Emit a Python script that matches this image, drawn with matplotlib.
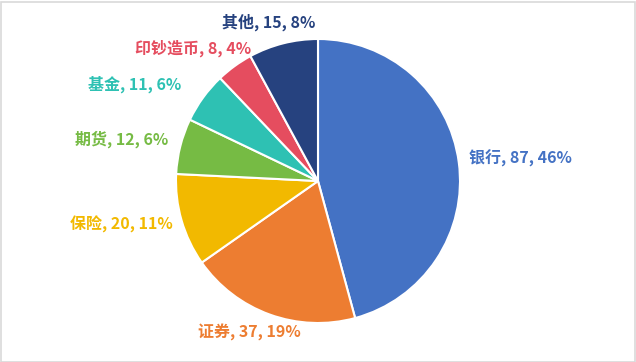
import matplotlib
matplotlib.use("Agg")
import matplotlib.pyplot as plt
from matplotlib.patches import Rectangle

plt.rcParams['font.family'] = ['Noto Sans CJK SC', 'DejaVu Sans']

categories = ["银行", "证券", "保险", "期货", "基金", "印钞造币", "其他"]
values = [87, 37, 20, 12, 11, 8, 15]
percents = ["46%", "19%", "11%", "6%", "6%", "4%", "8%"]

colors = ["#4472C4", "#ED7D31", "#F2B900", "#76BB44", "#2EC1B3", "#E54D5F", "#26427F"]

# label centres (layout, in pie-radius units relative to the pie centre)
label_pos = [(1.423, 0.162), (-0.486, -1.067), (-1.387, -0.303), (-1.380, 0.296),
             (-1.289, 0.683), (-0.880, 0.937), (-0.345, 1.120)]

W, H = 636, 362
fig = plt.figure(figsize=(W / 100, H / 100), dpi=100)
ax = fig.add_axes([0, 0, 1, 1])
cx, cy, r = 318, 181, 142
ax.set_xlim(-cx / r, (W - cx) / r)
ax.set_ylim(-(H - cy) / r, cy / r)
ax.set_aspect('auto')
ax.axis('off')

wedges, _ = ax.pie(values, colors=colors, startangle=90, counterclock=False,
                   radius=1.0, center=(0, 0), frame=True,
                   wedgeprops=dict(edgecolor='white', linewidth=1.5))
ax.set_xlim(-cx / r, (W - cx) / r)
ax.set_ylim(-(H - cy) / r, cy / r)
ax.axis('off')

for cat, v, p, c, (lx, ly) in zip(categories, values, percents, colors, label_pos):
    ax.text(lx, ly, f"{cat}, {v}, {p}", color=c, fontsize=11.5, fontweight='bold',
            ha='center', va='center')

fig.patches.append(Rectangle((0.5 / W, 0.5 / H), 1 - 2 / W, 1 - 2 / H,
                             transform=fig.transFigure, fill=False,
                             edgecolor='#D9D9D9', linewidth=1.2))

fig.savefig("out.png", dpi=100, facecolor='white')
